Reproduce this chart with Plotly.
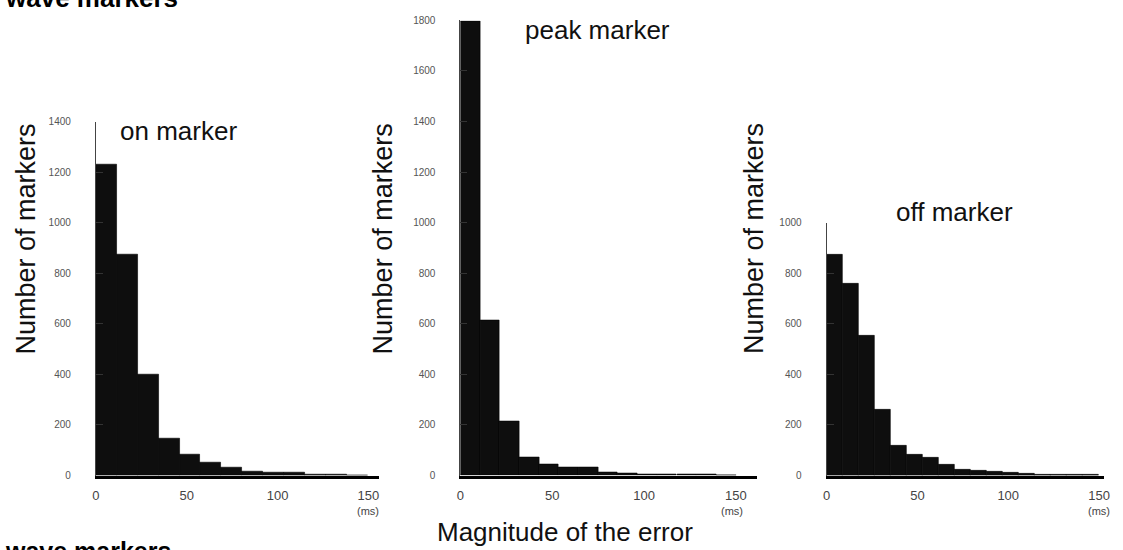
import plotly.graph_objects as go

W, H = 1123, 550
FONT = "Arial, Liberation Sans, Helvetica, sans-serif"

# Histogram of the timing error (ms) for each marker type: bin start and count
on_bin_start = [0, 11.5, 23, 34.5, 46, 57.5, 69, 80.5, 92, 103.5, 115, 126.5, 138]
on_bin_width = 11.5
on_counts = [1230, 875, 400, 145, 85, 50, 30, 16, 13, 11, 5, 3, 2]

peak_bin_start = [0, 10.7, 21.4, 32.1, 42.9, 53.6, 64.3, 75.0, 85.7, 96.4, 107.1, 117.9, 128.6, 139.3]
peak_bin_width = 10.7
peak_counts = [1795, 615, 215, 71, 45, 33, 32, 11, 10, 6, 5, 5, 3, 2]

off_bin_start = [0, 8.8, 17.6, 26.4, 35.2, 44.0, 52.8, 61.6, 70.4, 79.2, 88.0, 96.8,
                 105.6, 114.4, 123.2, 132.0, 140.8]
off_bin_width = 8.8
off_counts = [875, 760, 555, 260, 118, 82, 70, 42, 24, 18, 14, 10, 7, 5, 4, 3, 2]

x_ticks = [0, 50, 100, 150]
on_y_ticks = [0, 200, 400, 600, 800, 1000, 1200, 1400]
peak_y_ticks = [0, 200, 400, 600, 800, 1000, 1200, 1400, 1600, 1800]
off_y_ticks = [0, 200, 400, 600, 800, 1000]

panel_names = ["on marker", "peak marker", "off marker"]


def px_x(x):
    return x / W


def px_y(y):
    return 1 - y / H


fig = go.Figure()

panels = [
    dict(start=on_bin_start, width=on_bin_width, counts=on_counts, yticks=on_y_ticks,
         xdom=(92.7, 378), xmax=155.6, ytop=118.1),
    dict(start=peak_bin_start, width=peak_bin_width, counts=peak_counts, yticks=peak_y_ticks,
         xdom=(460.5, 760), xmax=161.6, ytop=14.7),
    dict(start=off_bin_start, width=off_bin_width, counts=off_counts, yticks=off_y_ticks,
         xdom=(830, 1110), xmax=152.8, ytop=221.5),
]

y_base = 480
for i, p in enumerate(panels):
    k = "" if i == 0 else str(i + 1)
    fig.add_trace(go.Bar(
        x=p["start"], y=p["counts"], width=p["width"], offset=0,
        marker=dict(color="#0e0e0e", line=dict(color="#000000", width=0.6)),
        xaxis="x" + k, yaxis="y" + k, showlegend=False, hoverinfo="skip",
    ))
    fig.layout["xaxis" + k] = dict(
        domain=[px_x(p["xdom"][0]), px_x(p["xdom"][1])],
        range=[0, p["xmax"]], anchor="y" + k,
        tickvals=x_ticks, ticks="", showgrid=False, zeroline=False,
        showline=True, linecolor="#000000", linewidth=3,
        tickfont=dict(family=FONT, size=13, color="#444444"),
        ticklabelstandoff=6,
    )
    fig.layout["yaxis" + k] = dict(
        domain=[px_y(y_base), px_y(p["ytop"])],
        range=[0, p["yticks"][-1]], anchor="x" + k,
        tickvals=p["yticks"], ticks="inside", ticklen=7, tickwidth=1, tickcolor="#333333",
        showgrid=False, zeroline=False,
        showline=True, linecolor="#444444", linewidth=1,
        tickfont=dict(family=FONT, size=10, color="#555555"),
        ticklabelstandoff=22,
    )

annotations = []
# y-axis titles
for xc in [22, 382, 757]:
    annotations.append(dict(
        text="Number of markers", x=px_x(xc), y=px_y(238), xref="paper", yref="paper",
        textangle=-90, showarrow=False, xanchor="center", yanchor="middle",
        font=dict(family=FONT, size=27, color="#111111"),
    ))
# panel titles
for name, xl, yc in zip(panel_names, [115, 524, 898], [128, 25, 211]):
    annotations.append(dict(
        text=name, x=px_x(xl), y=px_y(yc), xref="paper", yref="paper",
        showarrow=False, xanchor="left", yanchor="middle",
        font=dict(family=FONT, size=26, color="#111111"),
    ))
# unit labels under the 150 ms tick
for xc in [367, 735, 1105]:
    annotations.append(dict(
        text="(ms)", x=px_x(xc), y=px_y(516), xref="paper", yref="paper",
        showarrow=False, xanchor="center", yanchor="middle",
        font=dict(family=FONT, size=11, color="#444444"),
    ))
# shared x-axis title
annotations.append(dict(
    text="Magnitude of the error", x=px_x(566), y=px_y(538), xref="paper", yref="paper",
    showarrow=False, xanchor="center", yanchor="middle",
    font=dict(family=FONT, size=26, color="#111111"),
))
# section headings, partly outside the page edges
annotations.append(dict(
    text="<b>wave markers</b>", x=px_x(-1), y=px_y(-8), xref="paper", yref="paper",
    showarrow=False, xanchor="left", yanchor="middle",
    font=dict(family=FONT, size=26, color="#000000"),
))
annotations.append(dict(
    text="<b>wave markers</b>", x=px_x(-1), y=px_y(557), xref="paper", yref="paper",
    showarrow=False, xanchor="left", yanchor="middle",
    font=dict(family=FONT, size=25, color="#000000"),
))

fig.update_layout(
    width=W, height=H, autosize=False,
    margin=dict(l=0, r=0, t=0, b=0),
    paper_bgcolor="#ffffff", plot_bgcolor="#ffffff",
    bargap=0, annotations=annotations,
)

fig.write_html("out.html")
